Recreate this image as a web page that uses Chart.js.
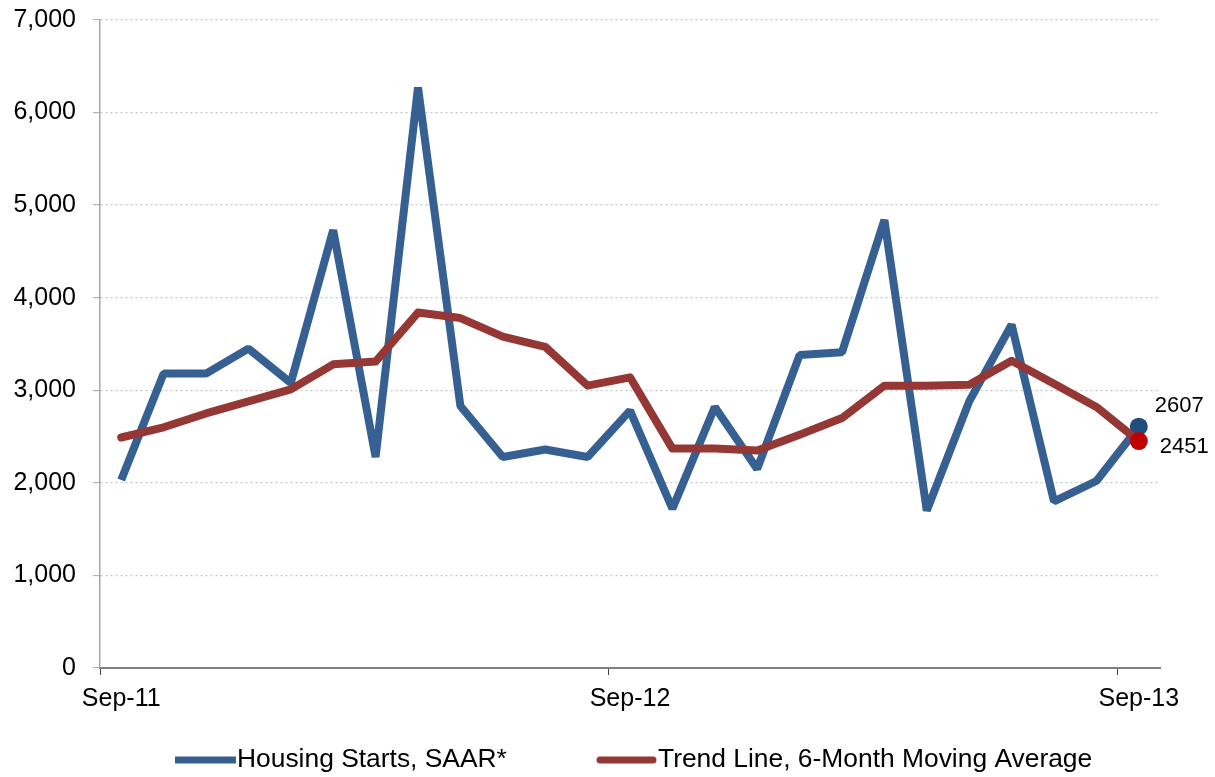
<!DOCTYPE html>
<html>
<head>
<meta charset="utf-8">
<script src="https://cdn.jsdelivr.net/npm/chart.js@4/dist/chart.umd.min.js"></script>
<style>
  html, body { margin: 0; padding: 0; background: #ffffff; }
  #wrap { position: relative; width: 1215px; height: 777px; }
</style>
</head>
<body>
<div id="wrap"><canvas id="c" width="1215" height="777"></canvas></div>
<script>
const categories = ["Sep-11","Oct-11","Nov-11","Dec-11","Jan-12","Feb-12","Mar-12","Apr-12","May-12","Jun-12","Jul-12","Aug-12",
  "Sep-12","Oct-12","Nov-12","Dec-12","Jan-13","Feb-13","Mar-13","Apr-13","May-13","Jun-13","Jul-13","Aug-13","Sep-13"];
const shownTickLabels = ["Sep-11","Sep-12","Sep-13"];
const housingStarts = [2030,3180,3180,3450,3080,4730,2280,6270,2830,2280,2360,2280,
  2780,1720,2820,2150,3380,3410,4840,1700,2880,3710,1800,2020,2607];
const trendLine = [2490,2600,2750,2880,3010,3280,3310,3840,3780,3580,3470,3050,
  3140,2370,2370,2350,2520,2700,3050,3050,3060,3320,3070,2820,2451];
const seriesNames = ["Housing Starts, SAAR*","Trend Line, 6-Month Moving Average"];
const yTickValues = [0,1000,2000,3000,4000,5000,6000,7000];

const FONT = "'Liberation Sans', Arial, sans-serif";
const BLUE = "#376092";
const RED = "#953735";
const lastIdx = categories.length - 1;

const endLabels = {
  id: 'endLabels',
  afterDatasetsDraw(chart) {
    const ctx = chart.ctx;
    ctx.save();
    ctx.font = "22px " + FONT;
    ctx.fillStyle = "#000";
    ctx.textBaseline = "middle";
    ctx.textAlign = "left";
    const m0 = chart.getDatasetMeta(0).data[lastIdx];
    const m1 = chart.getDatasetMeta(1).data[lastIdx];
    ctx.fillText(String(housingStarts[lastIdx]), m0.x + 16, m0.y - 21);
    ctx.fillText(String(trendLine[lastIdx]), m1.x + 21, m1.y + 6);
    ctx.restore();
  }
};

const customLegend = {
  id: 'customLegend',
  afterDraw(chart) {
    const ctx = chart.ctx;
    ctx.save();
    const y = 760;
    ctx.lineWidth = 7;
    ctx.strokeStyle = BLUE;
    ctx.lineCap = 'butt';
    ctx.beginPath(); ctx.moveTo(175, y); ctx.lineTo(236, y); ctx.stroke();
    ctx.strokeStyle = RED;
    ctx.lineCap = 'round';
    ctx.beginPath(); ctx.moveTo(600, y); ctx.lineTo(653, y); ctx.stroke();
    ctx.font = "26.4px " + FONT;
    ctx.fillStyle = "#000";
    ctx.textBaseline = "middle";
    ctx.textAlign = "left";
    ctx.fillText(seriesNames[0], 237, y);
    ctx.fillText(seriesNames[1], 658, y);
    ctx.restore();
  }
};

new Chart(document.getElementById('c'), {
  type: 'line',
  data: {
    labels: categories,
    datasets: [
      {
        label: seriesNames[0],
        data: housingStarts,
        borderColor: BLUE,
        borderWidth: 8,
        borderJoinStyle: 'bevel',
        borderCapStyle: 'butt',
        tension: 0,
        pointRadius: ctx => ctx.dataIndex === lastIdx ? 9 : 0,
        pointHoverRadius: 0,
        pointBackgroundColor: "#214C7E",
        pointBorderColor: "#214C7E",
        pointBorderWidth: 0,
        order: 2
      },
      {
        label: seriesNames[1],
        data: trendLine,
        borderColor: RED,
        borderWidth: 8,
        borderJoinStyle: 'round',
        borderCapStyle: 'round',
        tension: 0,
        pointRadius: ctx => ctx.dataIndex === lastIdx ? 9 : 0,
        pointHoverRadius: 0,
        pointBackgroundColor: "#C00000",
        pointBorderColor: "#C00000",
        pointBorderWidth: 0,
        order: 1
      }
    ]
  },
  options: {
    responsive: false,
    animation: false,
    events: [],
    layout: { padding: { top: 9, left: 0, right: 55, bottom: 54 } },
    plugins: {
      legend: { display: false },
      tooltip: { enabled: false }
    },
    scales: {
      x: {
        type: 'category',
        offset: true,
        grid: {
          display: true,
          offset: true,
          drawOnChartArea: false,
          drawTicks: true,
          tickLength: 7,
          tickWidth: 1,
          tickColor: ctx => (ctx.index !== undefined && shownTickLabels.includes(categories[ctx.index])) ? '#404040' : 'rgba(0,0,0,0)'
        },
        border: { display: true, color: '#808080', width: 2 },
        ticks: {
          autoSkip: false,
          maxRotation: 0,
          minRotation: 0,
          padding: 9,
          color: '#000',
          font: { family: FONT, size: 25 },
          callback: function(value, index) {
            const lab = categories[index];
            return shownTickLabels.includes(lab) ? lab : '';
          }
        },
        afterFit(scale) { scale.height = 55; }
      },
      y: {
        min: 0,
        max: 7000,
        afterBuildTicks(scale) { scale.ticks = yTickValues.map(v => ({ value: v })); },
        grid: {
          display: true,
          drawOnChartArea: true,
          drawTicks: true,
          tickLength: 7,
          lineWidth: 1.3,
          color: ctx => ctx.tick && ctx.tick.value === 0 ? 'rgba(0,0,0,0)' : '#C6C6C6',
          tickColor: '#A6A6A6',
          tickWidth: 1
        },
        border: { display: true, color: '#A6A6A6', width: 1.5, dash: [2, 3] },
        ticks: {
          padding: 17,
          color: '#000',
          font: { family: FONT, size: 25, lineHeight: 0.24 },
          callback: v => v.toLocaleString('en-US')
        },
        afterFit(scale) { scale.width = 100; }
      }
    }
  },
  plugins: [endLabels, customLegend]
});
</script>
</body>
</html>
